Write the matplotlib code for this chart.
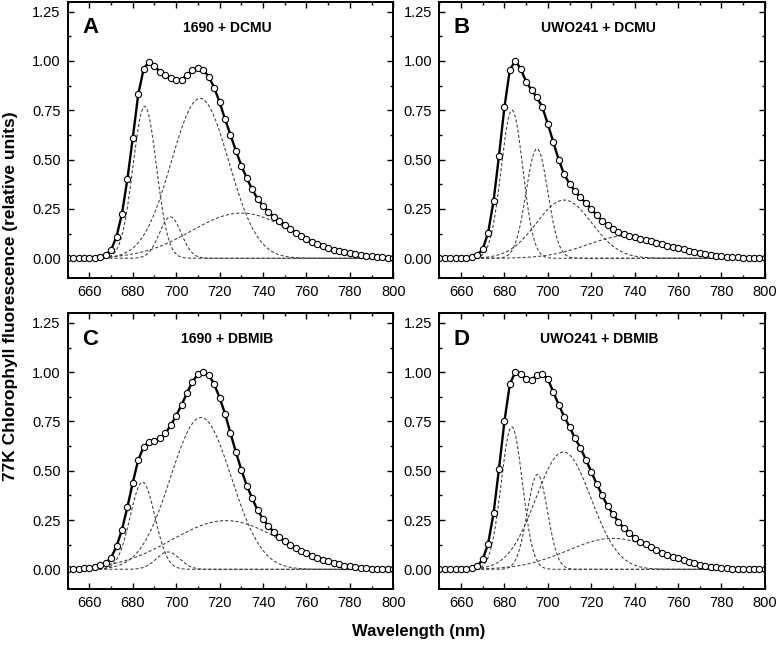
import numpy as np
import matplotlib
matplotlib.use("Agg")
import matplotlib.pyplot as plt
from matplotlib.ticker import MultipleLocator

plt.rcParams['font.family'] = ['Liberation Sans', 'DejaVu Sans']

# wavelength grid of the measured spectra (nm)
wl = np.arange(650, 800.1, 2.5)

spec_1690_dcmu = [0, 0, 0, 0, 0.001, 0.003, 0.008, 0.018, 0.042, 0.11,
                  0.225, 0.40, 0.61, 0.83, 0.96, 0.995, 0.975, 0.945, 0.928, 0.915,
                  0.905, 0.905, 0.93, 0.952, 0.962, 0.955, 0.92, 0.865, 0.79, 0.705,
                  0.625, 0.545, 0.47, 0.405, 0.35, 0.30, 0.265, 0.235, 0.21, 0.19,
                  0.17, 0.15, 0.13, 0.113, 0.097, 0.083, 0.071, 0.06, 0.051, 0.042,
                  0.035, 0.03, 0.025, 0.02, 0.016, 0.012, 0.009, 0.006, 0.004, 0.002, 0.001]
spec_uwo_dcmu = [0, 0, 0, 0, 0.001, 0.003, 0.007, 0.017, 0.046, 0.13,
                 0.29, 0.52, 0.765, 0.955, 1.0, 0.96, 0.895, 0.852, 0.815, 0.765,
                 0.68, 0.59, 0.50, 0.425, 0.378, 0.34, 0.308, 0.28, 0.25, 0.218,
                 0.19, 0.168, 0.15, 0.135, 0.124, 0.114, 0.106, 0.099, 0.092, 0.085,
                 0.078, 0.071, 0.064, 0.057, 0.051, 0.045, 0.039, 0.033, 0.028, 0.023,
                 0.018, 0.014, 0.011, 0.008, 0.006, 0.004, 0.003, 0.002, 0.001, 0.001, 0]
spec_1690_dbmib = [0.002, 0.003, 0.004, 0.006, 0.009, 0.013, 0.02, 0.033, 0.058, 0.117,
                   0.20, 0.315, 0.44, 0.555, 0.62, 0.648, 0.652, 0.665, 0.69, 0.73,
                   0.78, 0.835, 0.895, 0.952, 0.99, 1.0, 0.985, 0.94, 0.87, 0.79,
                   0.69, 0.595, 0.505, 0.425, 0.36, 0.30, 0.255, 0.218, 0.19, 0.165,
                   0.143, 0.125, 0.108, 0.094, 0.082, 0.069, 0.058, 0.048, 0.04, 0.032,
                   0.025, 0.019, 0.015, 0.011, 0.008, 0.006, 0.004, 0.003, 0.002, 0.002, 0.001]
spec_uwo_dbmib = [0, 0, 0, 0, 0.001, 0.003, 0.007, 0.017, 0.05, 0.13,
                  0.285, 0.51, 0.75, 0.94, 1.0, 0.992, 0.965, 0.962, 0.985, 0.993,
                  0.965, 0.90, 0.835, 0.775, 0.723, 0.665, 0.617, 0.557, 0.495, 0.433,
                  0.376, 0.322, 0.28, 0.242, 0.21, 0.185, 0.16, 0.14, 0.126, 0.112,
                  0.098, 0.085, 0.075, 0.065, 0.055, 0.047, 0.038, 0.03, 0.024, 0.019,
                  0.014, 0.01, 0.007, 0.005, 0.003, 0.002, 0.001, 0.001, 0, 0, 0]

# gaussian deconvolution bands: peak position (nm), height, sigma (nm)
bands_1690_dcmu = [(685.5, 0.77, 5.4), (697.3, 0.21, 5.0), (711.0, 0.81, 13.2), (730.0, 0.229, 23.0)]
bands_uwo_dcmu = [(683.5, 0.75, 5.0), (695.0, 0.555, 5.0), (707.5, 0.295, 12.7), (737.0, 0.115, 18.5)]
bands_1690_dbmib = [(684.5, 0.442, 5.7), (696.2, 0.088, 5.4), (711.4, 0.77, 14.0), (723.0, 0.247, 25.0)]
bands_uwo_dbmib = [(683.4, 0.723, 4.9), (695.2, 0.481, 4.7), (707.2, 0.595, 12.7), (730.0, 0.157, 21.0)]

letters = ['A', 'B', 'C', 'D']
titles = ['1690 + DCMU', 'UWO241 + DCMU', '1690 + DBMIB', 'UWO241 + DBMIB']
spectra = [spec_1690_dcmu, spec_uwo_dcmu, spec_1690_dbmib, spec_uwo_dbmib]
bands = [bands_1690_dcmu, bands_uwo_dcmu, bands_1690_dbmib, bands_uwo_dbmib]

fig = plt.figure(figsize=(7.76, 6.5), dpi=100)
positions = [[0.0872, 0.5723, 0.4196, 0.4251],
             [0.5661, 0.5723, 0.4196, 0.4251],
             [0.0872, 0.0938, 0.4196, 0.4246],
             [0.5661, 0.0938, 0.4196, 0.4246]]

wl_fine = np.linspace(650, 800, 601)

for i in range(4):
    ax = fig.add_axes(positions[i])

    # component bands
    for (c, h, s) in bands[i]:
        ax.plot(wl_fine, h * np.exp(-(wl_fine - c) ** 2 / (2 * s ** 2)),
                color='#3a3a3a', lw=0.75, ls=(0, (3, 2)))

    ax.plot(wl, spectra[i], color='black', lw=1.7, marker='o', ms=4.5,
            mfc='white', mec='black', mew=0.8)

    ax.set_xlim(650, 800)
    ax.set_ylim(-0.1, 1.3)
    ax.set_xticks([660, 680, 700, 720, 740, 760, 780, 800])
    ax.xaxis.set_minor_locator(MultipleLocator(10))
    ax.set_yticks([0, 0.25, 0.5, 0.75, 1.0, 1.25])
    ax.yaxis.set_minor_locator(MultipleLocator(0.125))
    ax.set_yticklabels(['0.00', '0.25', '0.50', '0.75', '1.00', '1.25'])
    ax.tick_params(which='both', direction='in', top=True, right=True, labelsize=10.5, pad=5)
    ax.tick_params(which='major', length=4.5, width=1)
    ax.tick_params(which='minor', length=2.5, width=1)
    for sp in ax.spines.values():
        sp.set_linewidth(1.4)

    ax.text(0.045, 0.905, letters[i], transform=ax.transAxes, fontsize=16,
            fontweight='bold', va='center', ha='left')
    ax.text(0.49, 0.905, titles[i], transform=ax.transAxes, fontsize=10,
            fontweight='bold', va='center', ha='center')

fig.text(0.013, 0.545, '77K Chlorophyll fluorescence (relative units)', rotation=90,
         fontsize=12.5, fontweight='bold', va='center', ha='center')
fig.text(0.539, 0.028, 'Wavelength (nm)', fontsize=12, fontweight='bold',
         va='center', ha='center')

fig.savefig('out.png', dpi=100)
